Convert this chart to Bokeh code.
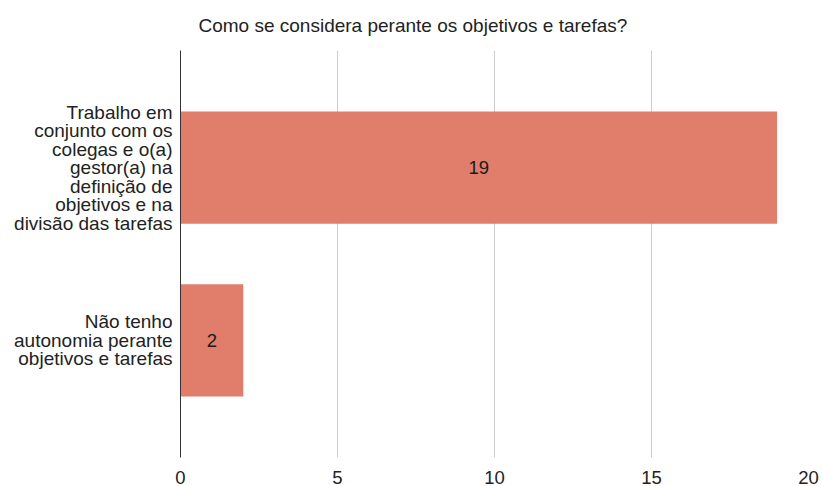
from bokeh.plotting import figure
from bokeh.models import ColumnDataSource, FactorRange, Range1d, LabelSet
from bokeh.core.properties import value
from bokeh.embed import file_html
from bokeh.resources import INLINE

title = "Como se considera perante os objetivos e tarefas?"
categories = [
    "Trabalho em\nconjunto com os\ncolegas e o(a)\ngestor(a) na\ndefinição de\nobjetivos e na\ndivisão das tarefas",
    "Não tenho\nautonomia perante\nobjetivos e tarefas",
]
values = [19, 2]
x_ticks = [0, 5, 10, 15, 20]

FONT = "Liberation Sans"
BAR = "#E07D6B"

# bottom-to-top order for the y factor range
order = list(reversed(categories))
src = ColumnDataSource(dict(
    cat=categories,
    val=values,
    mid=[v / 2 for v in values],
    lab=[str(v) for v in values],
))

p = figure(
    width=822, height=486,
    y_range=FactorRange(factors=order, range_padding=0.178, range_padding_units="absolute"),
    x_range=Range1d(0, 20),
    output_backend="svg", toolbar_location=None,
    min_border_left=180, min_border_right=14, min_border_top=50, min_border_bottom=0,
    title=title,
)

p.hbar(y="cat", right="val", left=0, height=0.65, source=src,
       fill_color=BAR, line_color=None)

labels = LabelSet(x="mid", y="cat", text="lab", source=src,
                  text_align="center", text_baseline="middle",
                  text_font=value(FONT), text_font_size=value("18.5px"),
                  text_color=value("#1a1a1a"))
p.add_layout(labels)

p.title.text_font = FONT
p.title.text_font_size = "19px"
p.title.text_font_style = "normal"
p.title.text_color = "#222222"
p.title.align = "left"
p.title.vertical_align = "top"
p.title.offset = 18
p.title.standoff = 26

p.outline_line_color = None
p.background_fill_color = "white"
p.border_fill_color = "white"

p.xaxis.ticker = x_ticks
p.xaxis.axis_line_color = None
p.xaxis.major_tick_line_color = None
p.xaxis.minor_tick_line_color = None
p.xaxis.major_label_text_font = FONT
p.xaxis.major_label_text_font_size = "18.5px"
p.xaxis.major_label_text_color = "#222222"
p.xaxis.major_label_standoff = 7

p.yaxis.axis_line_color = "#333333"
p.yaxis.major_tick_line_color = None
p.yaxis.minor_tick_line_color = None
p.yaxis.major_label_text_font = FONT
p.yaxis.major_label_text_font_size = "19px"
p.yaxis.major_label_text_color = "#222222"
p.yaxis.major_label_text_line_height = 0.88
p.yaxis.major_label_standoff = 2

p.xgrid.grid_line_color = "#cccccc"
p.ygrid.grid_line_color = None

open("out.html", "w").write(file_html(p, INLINE))
